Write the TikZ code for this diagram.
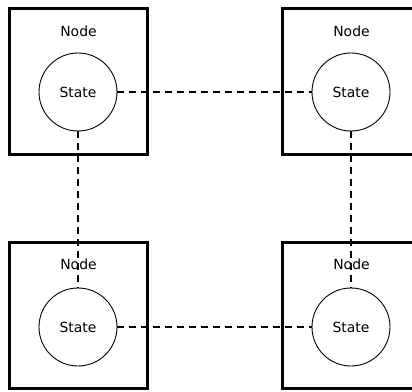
\documentclass[tikz,border=0pt]{standalone}
\usepackage{fontspec}
\setmainfont{DejaVu Sans}
\begin{document}
\begin{tikzpicture}[x=1bp,y=-1bp,
  nodebox/.style={draw,line width=3bp,minimum width=137bp,minimum height=146bp,inner sep=0pt},
  boxlabel/.style={font=\fontsize{14}{16}\selectfont,inner sep=0pt},
  statecirc/.style={draw,circle,line width=0.9bp,minimum size=78bp,inner sep=0pt,font=\fontsize{14}{16}\selectfont},
  link/.style={line width=1.9bp,dash pattern=on 7bp off 5bp}]
\useasboundingbox (0,0) rectangle (412,392);
% the four boxes
\node[nodebox] (b1) at (78.5,81.5) {};
\node[nodebox] (b2) at (351.5,81.5) {};
\node[nodebox] (b3) at (78.5,315.5) {};
\node[nodebox] (b4) at (351.5,315.5) {};
% box titles
\node[boxlabel] (t1) at (78.5,31) {Node};
\node[boxlabel] (t2) at (351.5,31) {Node};
\node[boxlabel] (t3) at (78.5,264) {Node};
\node[boxlabel] (t4) at (351.5,264) {Node};
% states
\node[statecirc] (s1) at (78,92) {State};
\node[statecirc] (s2) at (351,92) {State};
\node[statecirc] (s3) at (78,327) {State};
\node[statecirc] (s4) at (351,327) {State};
% links between states
\draw[link] (s1) -- (s2);
\draw[link] (s1) -- (s3);
\draw[link] (s2) -- (s4);
\draw[link] (s3) -- (s4);
\end{tikzpicture}
\end{document}
